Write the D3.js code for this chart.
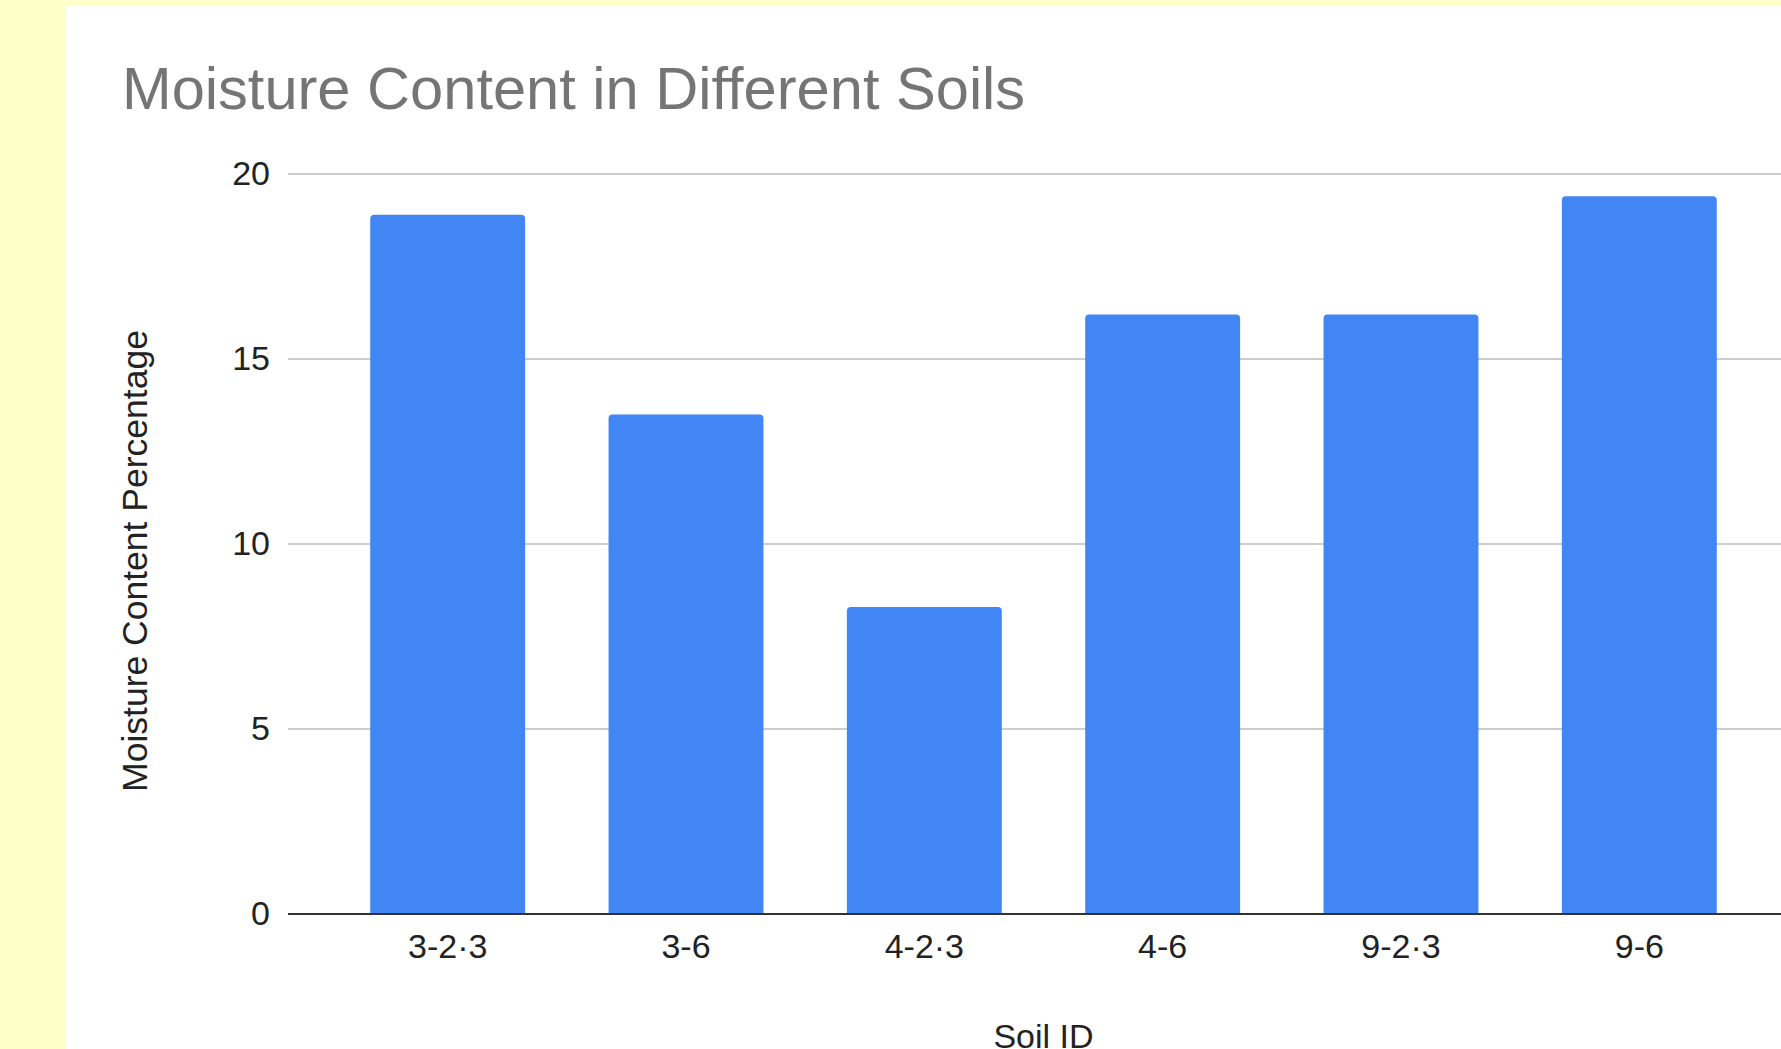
<!DOCTYPE html>
<html>
<head>
<meta charset="utf-8">
<script src="https://cdn.jsdelivr.net/npm/d3@7"></script>
<style>
  html, body { margin: 0; padding: 0; background: #ffffc9; overflow: hidden; }
  svg { display: block; font-family: "Liberation Sans", Arial, sans-serif; }
</style>
</head>
<body>
<svg id="chart" width="1781" height="1049"></svg>
<script>
// Moisture content per soil sample
const soilIds = ["3-2·3", "3-6", "4-2·3", "4-6", "9-2·3", "9-6"];
const moisture = [18.9, 13.5, 8.3, 16.2, 16.2, 19.4];
const yTicks = [0, 5, 10, 15, 20];

const W = 1781, H = 1049;
const plot = { left: 288, right: 1799, top: 174, bottom: 914 };

const svg = d3.select("#chart");

// white card on the yellow page
svg.append("rect")
  .attr("x", 66).attr("y", 6)
  .attr("width", W - 66).attr("height", H - 6)
  .attr("fill", "#ffffff");

const x = d3.scaleBand()
  .domain(soilIds)
  .range([plot.left, plot.right])
  .paddingInner(0.35)
  .paddingOuter(0.345);

const y = d3.scaleLinear()
  .domain([0, 20])
  .range([plot.bottom, plot.top]);

// horizontal gridlines
svg.append("g")
  .selectAll("line")
  .data(yTicks.filter(t => t !== 0))
  .join("line")
  .attr("x1", plot.left).attr("x2", plot.right)
  .attr("y1", d => y(d)).attr("y2", d => y(d))
  .attr("stroke", "#cccccc")
  .attr("stroke-width", 2);

// bars with slightly rounded top corners
const r = 4;
function barPath(d, i) {
  const x0 = x(soilIds[i]), w = x.bandwidth();
  const yt = y(d), yb = y(0);
  return `M${x0},${yb}V${yt + r}Q${x0},${yt} ${x0 + r},${yt}` +
         `H${x0 + w - r}Q${x0 + w},${yt} ${x0 + w},${yt + r}V${yb}Z`;
}
svg.append("g")
  .selectAll("path")
  .data(moisture)
  .join("path")
  .attr("d", (d, i) => barPath(d, i))
  .attr("fill", "#4285f4");

// baseline
svg.append("line")
  .attr("x1", plot.left).attr("x2", plot.right)
  .attr("y1", y(0)).attr("y2", y(0))
  .attr("stroke", "#333333")
  .attr("stroke-width", 2.2);

// y axis labels
const yAxis = svg.append("g")
  .attr("transform", `translate(${plot.left},0)`)
  .call(d3.axisLeft(y).tickValues(yTicks).tickSize(0).tickPadding(18).tickFormat(d3.format("d")));
yAxis.select(".domain").remove();
yAxis.selectAll("text")
  .attr("font-size", 34)
  .attr("font-family", "'Liberation Sans', Arial, sans-serif")
  .attr("fill", "#222222");

// x axis labels
const xAxis = svg.append("g")
  .attr("transform", `translate(0,${plot.bottom})`)
  .call(d3.axisBottom(x).tickSize(0).tickPadding(20));
xAxis.select(".domain").remove();
xAxis.selectAll("text")
  .attr("font-size", 34)
  .attr("font-family", "'Liberation Sans', Arial, sans-serif")
  .attr("fill", "#222222");

// chart title
svg.append("text")
  .attr("x", 122).attr("y", 109)
  .attr("font-size", 59.6)
  .attr("fill", "#757575")
  .text("Moisture Content in Different Soils");

// axis titles
svg.append("text")
  .attr("x", (plot.left + plot.right) / 2)
  .attr("y", 1048)
  .attr("text-anchor", "middle")
  .attr("font-size", 34)
  .attr("fill", "#222222")
  .text("Soil ID");

svg.append("text")
  .attr("transform", "translate(147,561) rotate(-90)")
  .attr("text-anchor", "middle")
  .attr("font-size", 35.5)
  .attr("fill", "#222222")
  .text("Moisture Content Percentage");
</script>
</body>
</html>
